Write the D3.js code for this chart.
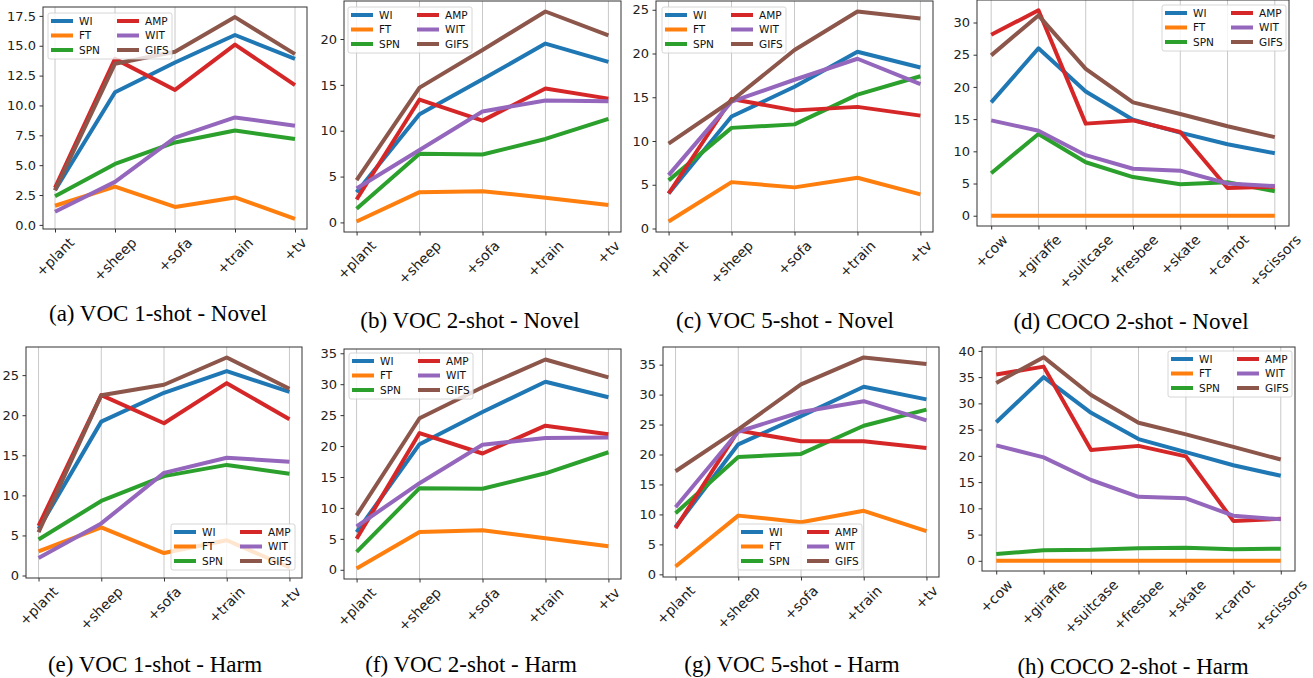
<!DOCTYPE html>
<html>
<head>
<meta charset="utf-8">
<script src="https://cdn.jsdelivr.net/npm/d3@7"></script>
<style>
  body { margin: 0; background: #fff; }
  svg text { font-family: "DejaVu Sans", sans-serif; }
  .title { font-family: "Liberation Serif", "Times New Roman", serif !important; }
</style>
</head>
<body>
<svg id="fig" width="1313" height="678"></svg>
<script>
var vocCats = ["+plant", "+sheep", "+sofa", "+train", "+tv"];
var cocoCats = ["+cow", "+giraffe", "+suitcase", "+fresbee", "+skate", "+carrot", "+scissors"];
var methods = ["WI", "FT", "SPN", "AMP", "WIT", "GIFS"];
var colors = ["#1f77b4", "#ff7f0e", "#2ca02c", "#d62728", "#9467bd", "#8c564b"];

// one row per method, same order as methods
var voc1Novel = [
  [2.9, 11.1, 13.6, 15.9, 13.9],
  [1.6, 3.2, 1.5, 2.3, 0.5],
  [2.4, 5.1, 6.9, 7.9, 7.2],
  [3.1, 13.9, 11.3, 15.1, 11.7],
  [1.1, 3.6, 7.3, 9.0, 8.3],
  [2.9, 13.5, 14.5, 17.4, 14.3]
];
var voc2Novel = [
  [3.3, 11.8, 15.6, 19.5, 17.5],
  [0.1, 3.3, 3.4, 2.7, 1.9],
  [1.5, 7.5, 7.4, 9.1, 11.3],
  [2.5, 13.4, 11.1, 14.6, 13.5],
  [3.7, 7.9, 12.1, 13.3, 13.2],
  [4.6, 14.7, 18.8, 23.0, 20.4]
];
var voc5Novel = [
  [4.0, 12.8, 16.2, 20.2, 18.4],
  [0.8, 5.3, 4.7, 5.8, 3.9],
  [5.5, 11.5, 11.9, 15.3, 17.4],
  [4.0, 14.8, 13.5, 13.9, 12.9],
  [6.1, 14.5, 17.0, 19.4, 16.5],
  [9.7, 14.6, 20.4, 24.8, 24.0]
];
var coco2Novel = [
  [17.6, 26.0, 19.3, 14.9, 12.9, 11.1, 9.7],
  [0, 0, 0, 0, 0, 0, 0],
  [6.6, 12.7, 8.3, 6.0, 4.9, 5.2, 3.8],
  [28.1, 31.9, 14.3, 14.8, 13.0, 4.3, 4.5],
  [14.8, 13.2, 9.4, 7.3, 7.0, 5.0, 4.6],
  [24.9, 31.1, 22.8, 17.6, 15.8, 13.9, 12.2]
];
var voc1Harm = [
  [5.8, 19.2, 22.8, 25.5, 22.9],
  [3.0, 6.0, 2.8, 4.4, 1.0],
  [4.5, 9.3, 12.4, 13.8, 12.7],
  [6.2, 22.5, 19.0, 24.0, 19.5],
  [2.2, 6.5, 12.8, 14.7, 14.2],
  [5.4, 22.5, 23.8, 27.2, 23.3]
];
var voc2Harm = [
  [6.1, 20.3, 25.5, 30.4, 27.9],
  [0.2, 6.1, 6.4, 5.1, 3.8],
  [2.9, 13.2, 13.1, 15.6, 19.0],
  [5.0, 22.1, 18.8, 23.3, 21.9],
  [7.0, 14.0, 20.2, 21.3, 21.4],
  [8.8, 24.5, 29.5, 34.0, 31.1]
];
var voc5Harm = [
  [7.9, 21.7, 26.4, 31.3, 29.2],
  [1.3, 9.8, 8.7, 10.6, 7.2],
  [10.2, 19.6, 20.1, 24.8, 27.5],
  [7.7, 24.0, 22.2, 22.2, 21.1],
  [11.2, 23.8, 27.1, 28.9, 25.7],
  [17.2, 24.2, 31.7, 36.2, 35.1]
];
var coco2Harm = [
  [26.4, 35.0, 28.2, 23.2, 20.7, 18.2, 16.2],
  [0, 0, 0, 0, 0, 0, 0],
  [1.3, 2.0, 2.1, 2.4, 2.5, 2.2, 2.3],
  [35.5, 37.0, 21.1, 21.9, 19.9, 7.6, 8.0],
  [22.0, 19.7, 15.4, 12.2, 11.9, 8.6, 7.9],
  [33.9, 38.8, 31.6, 26.3, 24.1, 21.7, 19.3]
];
var titles = [
  "(a) VOC 1-shot - Novel", "(b) VOC 2-shot - Novel", "(c) VOC 5-shot - Novel", "(d) COCO 2-shot - Novel",
  "(e) VOC 1-shot - Harm", "(f) VOC 2-shot - Harm", "(g) VOC 5-shot - Harm", "(h) COCO 2-shot - Harm"
];

// layout: frame box, y tick step, legend corner, title centre
var panels = [
  {cats: vocCats, vals: voc1Novel, step: 2.5, fmt: ".1f", x: 43, y: 7, w: 264, h: 222, lx: 48, ly: 13, tx: 158, ty: 321},
  {cats: vocCats, vals: voc2Novel, step: 5, fmt: "d", x: 344, y: 1, w: 277, h: 231, lx: 348, ly: 7, tx: 470, ty: 328},
  {cats: vocCats, vals: voc5Novel, step: 5, fmt: "d", x: 656, y: 1, w: 277, h: 231, lx: 662, ly: 7, tx: 785, ty: 328},
  {cats: cocoCats, vals: coco2Novel, step: 5, fmt: "d", x: 977, y: 0, w: 312, h: 226, lx: 1162, ly: 5, tx: 1131, ty: 329},
  {cats: vocCats, vals: voc1Harm, step: 5, fmt: "d", x: 26, y: 347, w: 276, h: 231, lx: 171, ly: 524, tx: 155, ty: 672},
  {cats: vocCats, vals: voc2Harm, step: 5, fmt: "d", x: 344, y: 349, w: 277, h: 230, lx: 349, ly: 353, tx: 471, ty: 672},
  {cats: vocCats, vals: voc5Harm, step: 5, fmt: "d", x: 663, y: 347, w: 276, h: 230, lx: 738, ly: 524, tx: 792, ty: 672},
  {cats: cocoCats, vals: coco2Harm, step: 5, fmt: "d", x: 982, y: 347, w: 313, h: 224, lx: 1168, ly: 351, tx: 1133, ty: 674}
];

var svg = d3.select("#fig");

panels.forEach(function(p, i) {
  var g = svg.append("g");
  var n = p.cats.length - 1;
  var x = d3.scaleLinear().domain([-0.05 * n, 1.05 * n]).range([p.x, p.x + p.w]);
  var all = d3.merge(p.vals);
  var lo = d3.min(all), hi = d3.max(all), pad = (hi - lo) * 0.05;
  var y = d3.scaleLinear().domain([lo - pad, hi + pad]).range([p.y + p.h, p.y]);

  // vertical grid
  g.selectAll(".grid").data(p.cats).enter().append("line")
    .attr("x1", function(d, j) { return x(j); })
    .attr("x2", function(d, j) { return x(j); })
    .attr("y1", p.y).attr("y2", p.y + p.h)
    .attr("stroke", "#b0b0b0").attr("stroke-opacity", 0.7).attr("stroke-width", 1);

  // y axis
  var yt = d3.range(0, hi + pad, p.step).filter(function(v) { return v >= lo - pad; });
  var yAxis = g.append("g").attr("transform", "translate(" + p.x + ",0)")
    .call(d3.axisLeft(y).tickValues(yt).tickFormat(d3.format(p.fmt)).tickSize(3.5).tickPadding(3.5));
  yAxis.select(".domain").remove();
  yAxis.selectAll("line").attr("stroke", "#333");
  yAxis.selectAll("text").attr("font-size", 13).attr("fill", "#222")
    .style("font-family", "DejaVu Sans");

  // x axis ticks
  var xAxis = g.append("g").attr("transform", "translate(0," + (p.y + p.h) + ")")
    .call(d3.axisBottom(x).tickValues(d3.range(p.cats.length)).tickSize(3.5).tickFormat(""));
  xAxis.select(".domain").remove();
  xAxis.selectAll("line").attr("stroke", "#333");

  // rotated x labels, centred on tick like matplotlib
  p.cats.forEach(function(c, j) {
    var t = g.append("text").text(c).attr("font-size", 14).attr("fill", "#222")
      .attr("text-anchor", "middle").attr("dy", "0.35em");
    var w = t.node().getComputedTextLength();
    var off = (w + 12) / (2 * Math.SQRT2);
    t.attr("transform", "translate(" + x(j) + "," + (p.y + p.h + 7 + off) + ") rotate(-45)");
  });

  // lines
  var line = d3.line().x(function(d, j) { return x(j); }).y(function(d) { return y(d); });
  p.vals.forEach(function(row, k) {
    g.append("path").datum(row).attr("d", line)
      .attr("fill", "none").attr("stroke", colors[k]).attr("stroke-width", 4)
      .attr("stroke-linejoin", "round");
  });

  // frame
  g.append("rect").attr("x", p.x).attr("y", p.y).attr("width", p.w).attr("height", p.h)
    .attr("fill", "none").attr("stroke", "#333").attr("stroke-width", 1);

  // legend
  var lg = g.append("g").attr("transform", "translate(" + p.lx + "," + p.ly + ")");
  lg.append("rect").attr("width", 124).attr("height", 46).attr("rx", 2)
    .attr("fill", "#fff").attr("fill-opacity", 0.8).attr("stroke", "#ccc").attr("stroke-width", 0.8);
  methods.forEach(function(m, k) {
    var col = Math.floor(k / 3), row = k % 3;
    var ox = col === 0 ? 3 : 69, oy = 8 + row * 14.5;
    lg.append("line").attr("x1", ox).attr("x2", ox + 22).attr("y1", oy).attr("y2", oy)
      .attr("stroke", colors[k]).attr("stroke-width", 4);
    lg.append("text").attr("x", ox + 28).attr("y", oy).attr("dy", "0.35em")
      .attr("font-size", 10.5).attr("fill", "#111").text(m);
  });

  // caption
  svg.append("text").attr("class", "title").attr("x", p.tx).attr("y", p.ty)
    .attr("text-anchor", "middle").attr("font-size", 23).attr("fill", "#000").text(titles[i]);
});
</script>
</body>
</html>
